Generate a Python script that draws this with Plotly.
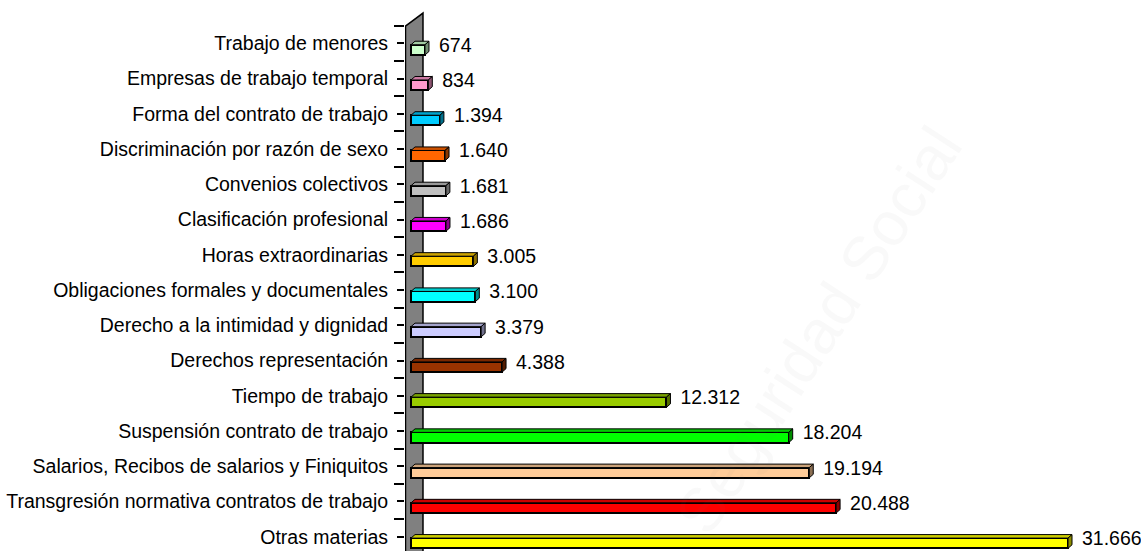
import plotly.graph_objects as go

# data, bottom to top (as drawn)
categorias = [
    "Otras materias",
    "Transgresión normativa contratos de trabajo",
    "Salarios, Recibos de salarios y Finiquitos",
    "Suspensión contrato de trabajo",
    "Tiempo de trabajo",
    "Derechos representación",
    "Derecho a la intimidad y dignidad",
    "Obligaciones formales y documentales",
    "Horas extraordinarias",
    "Clasificación profesional",
    "Convenios colectivos",
    "Discriminación por razón de sexo",
    "Forma del contrato de trabajo",
    "Empresas de trabajo temporal",
    "Trabajo de menores",
]
valores = [31666, 20488, 19194, 18204, 12312, 4388, 3379, 3100, 3005, 1686, 1681, 1640, 1394, 834, 674]
colores = [
    "#FFFF00", "#FF0000", "#FFCC99", "#00FF00", "#99CC00",
    "#993300", "#CCCCFF", "#00FFFF", "#FFCC00", "#FF00FF",
    "#C0C0C0", "#FF6600", "#00CCFF", "#FF99CC", "#CCFFCC",
]

FONT = "Liberation Sans Narrow, Arial Narrow, Liberation Sans, Arial"
FSIZE = 19.5

# 3D look: depth offset in data units
DX = 193      # ~4 px
DY = 0.10     # ~3.5 px
BAR_W = 0.29
BAR_SHIFT = -0.185


def shade(hexcol, f):
    h = hexcol.lstrip("#")
    r, g, b = (int(h[k:k + 2], 16) for k in (0, 2, 4))
    return "#%02X%02X%02X" % (int(r * f), int(g * f), int(b * f))


def fmt(v):
    return f"{v:,}".replace(",", ".")


ypos = [i + BAR_SHIFT for i in range(len(categorias))]

fig = go.Figure()

# front faces
fig.add_trace(go.Bar(
    x=valores,
    y=ypos,
    orientation="h",
    width=BAR_W,
    marker=dict(color=colores, line=dict(color="black", width=2)),
    hoverinfo="skip",
    showlegend=False,
))

# top and side faces
for v, yc, col in zip(valores, ypos, colores):
    yt = yc + BAR_W / 2
    yb = yc - BAR_W / 2
    fig.add_trace(go.Scatter(
        x=[0, v, v + DX, DX, 0],
        y=[yt, yt, yt + DY, yt + DY, yt],
        mode="lines", fill="toself", fillcolor=shade(col, 0.8),
        line=dict(color="black", width=1),
        hoverinfo="skip", showlegend=False,
    ))
    fig.add_trace(go.Scatter(
        x=[v, v + DX, v + DX, v, v],
        y=[yt, yt + DY, yb + DY, yb, yt],
        mode="lines", fill="toself", fillcolor=shade(col, 0.55),
        line=dict(color="black", width=1),
        hoverinfo="skip", showlegend=False,
    ))

# value labels
fig.add_trace(go.Scatter(
    x=[v + DX + 480 for v in valores],
    y=[i - 0.1 for i in range(len(categorias))],
    mode="text",
    text=[fmt(v) for v in valores],
    textposition="middle right",
    textfont=dict(family=FONT, size=FSIZE, color="black"),
    cliponaxis=False,
    hoverinfo="skip", showlegend=False,
))

# gray back wall
fig.add_shape(
    type="path",
    path="M -265,-1 L -265,14.49 L 578,14.86 L 578,-1 Z",
    xref="x", yref="y",
    fillcolor="#808080",
    line=dict(color="black", width=1.5),
    layer="below",
)

# watermark
fig.add_annotation(
    text="Seguridad Social",
    xref="paper", yref="paper",
    x=(818 - 405) / 736, y=1 - 330 / 551,
    showarrow=False,
    textangle=-57,
    font=dict(family="Liberation Sans, Arial", size=62, color="rgba(120,120,120,0.045)"),
)

fig.update_layout(
    width=1141, height=551,
    margin=dict(l=405, r=0, t=0, b=0, autoexpand=False),
    paper_bgcolor="white", plot_bgcolor="white",
    bargap=0,
    xaxis=dict(range=[-289, 35184], visible=False, fixedrange=True, automargin=False),
    yaxis=dict(
        range=[-0.406, 15.23],
        tickmode="array",
        tickvals=list(range(len(categorias))),
        ticktext=categorias,
        ticks="outside", ticklen=7, tickwidth=1.5, tickcolor="black",
        minor=dict(
            tickmode="array",
            tickvals=[i + 0.5 for i in range(-1, len(categorias))],
            ticks="outside", ticklen=10, tickwidth=1.5, tickcolor="black",
            showgrid=False,
        ),
        ticklabelstandoff=5,
        tickfont=dict(family=FONT, size=FSIZE, color="black"),
        showgrid=False, zeroline=False, showline=False,
        fixedrange=True, automargin=False,
    ),
)

# drop the default 8px page margin so the figure fills the window exactly
fig.write_html(
    "out.html",
    config={"displayModeBar": False},
    post_script="document.body.style.margin='0';",
)
